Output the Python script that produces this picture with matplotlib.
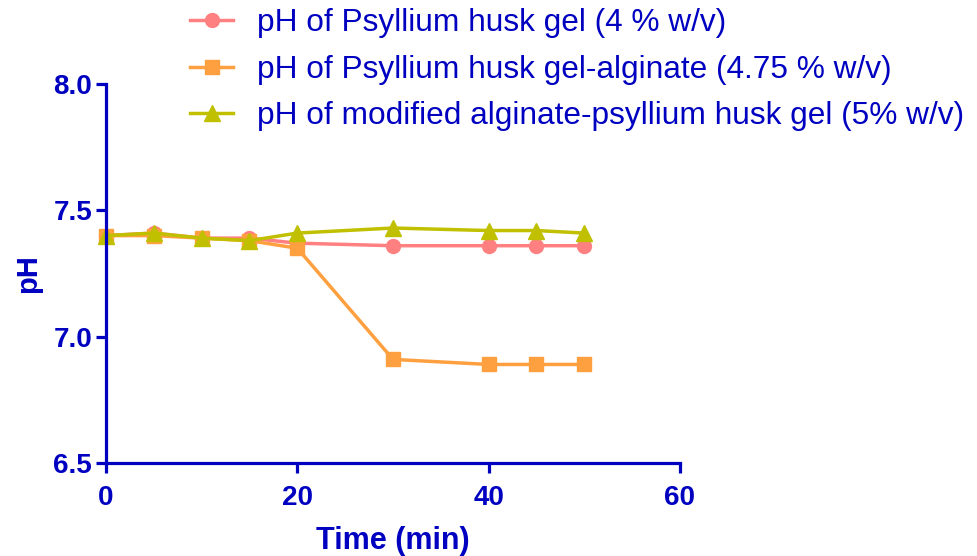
import matplotlib
matplotlib.use("Agg")
import matplotlib.pyplot as plt

time_min = [0, 5, 10, 15, 20, 30, 40, 45, 50]
ph_psyllium = [7.40, 7.41, 7.39, 7.39, 7.37, 7.36, 7.36, 7.36, 7.36]
ph_psyllium_alginate = [7.40, 7.40, 7.39, 7.38, 7.35, 6.91, 6.89, 6.89, 6.89]
ph_modified = [7.40, 7.41, 7.39, 7.38, 7.41, 7.43, 7.42, 7.42, 7.41]

labels = ["pH of Psyllium husk gel (4 % w/v)",
          "pH of Psyllium husk gel-alginate (4.75 % w/v)",
          "pH of modified alginate-psyllium husk gel (5% w/v)"]
x_ticks = [0, 20, 40, 60]
y_ticks = [6.5, 7.0, 7.5, 8.0]

blue = "#0000C0"
plt.rcParams['font.family'] = ['Liberation Sans', 'DejaVu Sans']

fig = plt.figure(figsize=(9.77, 5.56), dpi=100)
ax = fig.add_axes([106/977, 1-463/556, (680-106)/977, (463-84)/556])

ax.plot(time_min, ph_psyllium, color="#FF8080", marker="o", markersize=10, lw=2.5, label=labels[0])
ax.plot(time_min, ph_psyllium_alginate, color="#FFA040", marker="s", markersize=9.5, lw=2.5, label=labels[1])
ax.plot(time_min, ph_modified, color="#C0C000", marker="^", markersize=11, lw=2.5, label=labels[2])

ax.set_xlim(0, 60)
ax.set_ylim(6.5, 8.0)
ax.set_xticks(x_ticks)
ax.set_yticks(y_ticks)
ax.set_yticklabels([f"{v:.1f}" for v in y_ticks])
for s in ["top", "right"]:
    ax.spines[s].set_visible(False)
for s in ["left", "bottom"]:
    ax.spines[s].set_color(blue)
    ax.spines[s].set_linewidth(2.3)
ax.tick_params(axis="both", colors=blue, width=2.3, length=7.5, direction="out", labelsize=20)
ax.tick_params(axis="x", pad=8.5)
ax.tick_params(axis="y", pad=2.5)
for lab in ax.get_xticklabels() + ax.get_yticklabels():
    lab.set_fontweight("bold")
ax.set_xlabel("Time (min)", fontsize=22, fontweight="bold", color=blue, labelpad=11)
ax.set_ylabel("pH", fontsize=21, fontweight="bold", color=blue, labelpad=8)
for line in ax.lines:
    line.set_clip_on(False)

leg = fig.legend(loc="upper left", bbox_to_anchor=(187/977, 1 - 5/556), frameon=False,
                 fontsize=22.8, handlelength=1.35, handletextpad=0.75, labelspacing=0.52,
                 borderaxespad=0, borderpad=0.1)
for t in leg.get_texts():
    t.set_color(blue)

fig.savefig("out.png", dpi=100)
